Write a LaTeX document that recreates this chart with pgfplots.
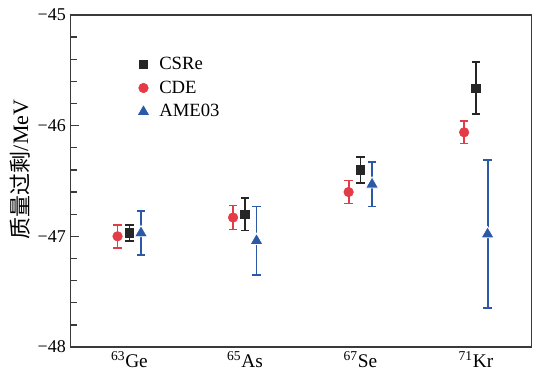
\documentclass[border=0pt]{standalone}
\usepackage{fontspec}
\setmainfont{Liberation Serif}
\newfontfamily\cjk{Noto Sans CJK SC}
\usepackage{pgfplots}
\pgfplotsset{compat=1.18}
\usepackage{pgfplotstable}
\definecolor{csre}{RGB}{38,38,38}
\definecolor{cde}{RGB}{228,60,70}
\definecolor{ame}{RGB}{44,88,168}
\definecolor{axc}{RGB}{58,58,58}
\pgfplotstableread{
x y e
1 -46.97 0.074
2 -46.80 0.146
3 -46.40 0.117
4 -45.66 0.235
}\csredata
\pgfplotstableread{
x y e
0.897 -47.00 0.104
1.897 -46.83 0.108
2.897 -46.60 0.105
3.897 -46.06 0.100
}\cdedata
\pgfplotstableread{
x y e
1.100 -46.97 0.20
2.100 -47.04 0.31
3.100 -46.53 0.20
4.100 -46.98 0.67
}\amedata
\begin{document}
\begin{tikzpicture}
\useasboundingbox (-52.9pt,-21.75pt) rectangle (347.65pt,260.25pt);
\begin{axis}[
  at={(0,0)}, anchor=south west,
  scale only axis, width=345.75pt, height=249pt,
  xmin=0.49, xmax=4.48, ymin=-48, ymax=-45,
  axis line style={axc, line width=1.1pt},
  xtick={1,2,3,4},
  xticklabels={\textsuperscript{63}Ge,\textsuperscript{65}As,\textsuperscript{67}Se,\textsuperscript{71}Kr},
  x tick style={draw=none},
  xticklabel style={font=\fontsize{14.5}{16}\selectfont},
  ytick={-48,-47,-46,-45},
  yticklabels={−48,−47,−46,−45},
  yticklabel style={font=\fontsize{13.5}{15}\selectfont},
  minor y tick num=4,
  ytick pos=left,
  tick align=inside,
  y tick style={axc, line width=1pt},
  major tick length=6.5pt, minor tick length=5pt,
  ylabel={{\cjk 质量过剩}/MeV},
  ylabel style={font=\fontsize{16.5}{18}\selectfont, at={(rel axis cs:-0.11,0.535)}, anchor=center},
  legend style={at={(rel axis cs:0.135,0.89)}, anchor=north west, draw=none, fill=none,
    font=\fontsize{14}{16}\selectfont, row sep=3pt, column sep=5pt},
  legend cell align=left,
]
\addplot[only marks, color=csre, line width=1.4pt, mark=square*, mark size=3.2pt,
  mark options={line width=0.4pt},
  error bars/.cd, y dir=both, y explicit,
  error bar style={line width=1.4pt, color=csre},
  error mark options={line width=1.2pt, mark size=3.1pt, rotate=90, color=csre}]
  table[x=x, y=y, y error=e]{\csredata};
\addlegendentry{CSRe}
\addplot[only marks, color=cde, line width=1.4pt, mark=*, mark size=3.6pt,
  mark options={line width=0.4pt},
  error bars/.cd, y dir=both, y explicit,
  error bar style={line width=1.4pt, color=cde},
  error mark options={line width=1.2pt, mark size=3.1pt, rotate=90, color=cde}]
  table[x=x, y=y, y error=e]{\cdedata};
\addlegendentry{CDE}
\addplot[only marks, color=ame, line width=1.4pt, mark=triangle*, mark size=5.6pt,
  mark options={draw=white, fill=ame, line width=0.6pt},
  error bars/.cd, y dir=both, y explicit,
  error bar style={line width=1.4pt, color=ame},
  error mark options={line width=1.2pt, mark size=3.1pt, rotate=90, color=ame}]
  table[x=x, y=y, y error=e]{\amedata};
\addlegendentry{AME03}
\end{axis}
\end{tikzpicture}
\end{document}
